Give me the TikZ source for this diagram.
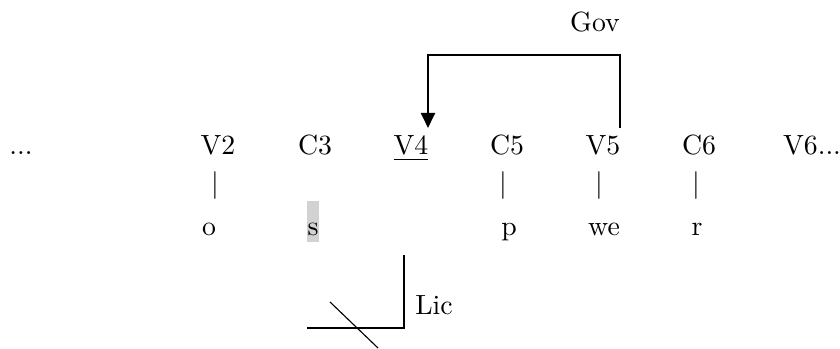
\documentclass[tikz,border=0pt]{standalone}
\usetikzlibrary{arrows.meta}
\begin{document}
\begin{tikzpicture}[x=0.36pt,y=-0.36pt,
  lbl/.style={inner sep=0pt,anchor=base},
  gov/.style={line width=0.8pt,-{Triangle[length=5.4pt,width=5pt]}},
  lic/.style={line width=0.8pt},
  strike/.style={line width=0.4pt}]
\useasboundingbox (0,0) rectangle (840,349);
% top row (baselines at y=155)
\node[lbl] (dots) at (21,155) {...};
\node[lbl] (V2) at (218,155) {V2};
\node[lbl] (C3) at (315,155) {C3};
\node[lbl] (V4) at (411,155) {\underline{V4}};
\node[lbl] (C5) at (507,155) {C5};
\node[lbl] (V5) at (603,155) {V5};
\node[lbl] (C6) at (699,155) {C6};
\node[lbl] (V6) at (812,155) {V6...};
% bars
\node[lbl] (b2) at (215,193) {|};
\node[lbl] (b5) at (503,193) {|};
\node[lbl] (b6) at (599,193) {|};
\node[lbl] (b7) at (696,193) {|};
% bottom row
\fill[gray!35] (307,201) rectangle (319,242);
\node[lbl] (o) at (209,235) {o};
\node[lbl] (s) at (313,235) {s};
\node[lbl] (p) at (509,235) {p};
\node[lbl] (we) at (604,235) {we};
\node[lbl] (r) at (697,235) {r};
% Gov
\node[lbl] (Gov) at (595,32) {Gov};
\coordinate (g1) at (620,128);
\coordinate (gtop) at (0,55);
\coordinate (g2) at (428,128);
\draw[gov] (g1) -- (g1 |- gtop) -| (g2);
% Lic
\node[lbl] (Lic) at (434,314) {Lic};
\coordinate (l1) at (404,255);
\coordinate (l2) at (404,328);
\coordinate (l3) at (307,328);
\draw[lic] (l1) -- (l2) -- (l3);
\coordinate (s1) at (330,302);
\coordinate (s2) at (378,348);
\draw[strike] (s1) -- (s2);
\end{tikzpicture}
\end{document}
